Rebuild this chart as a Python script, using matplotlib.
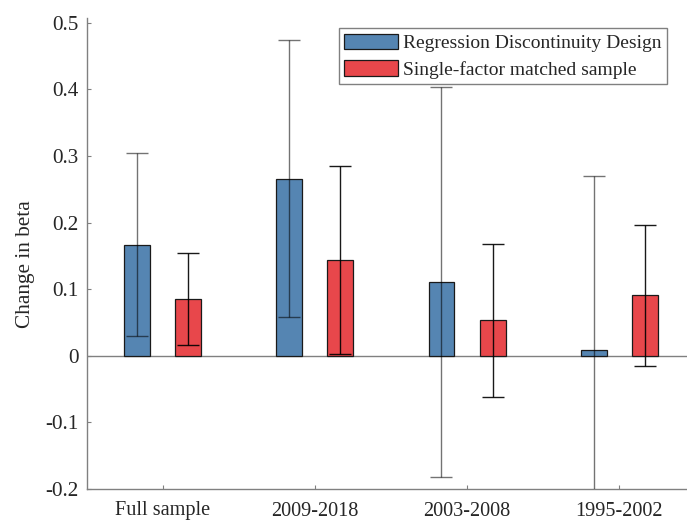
import matplotlib
matplotlib.use("Agg")
import matplotlib.pyplot as plt
import numpy as np

plt.rcParams["font.family"] = ["Liberation Serif", "DejaVu Serif"]

# Estimated change in beta by sample period
periods = ["Full sample", "2009-2018", "2003-2008", "1995-2002"]
rdd_mean = [0.167, 0.266, 0.111, 0.009]
rdd_err = [0.138, 0.208, 0.293, 0.261]
sfm_mean = [0.085, 0.144, 0.053, 0.091]
sfm_err = [0.069, 0.141, 0.115, 0.106]
series_names = ["Regression Discontinuity Design", "Single-factor matched sample"]
y_ticks = [-0.2, -0.1, 0, 0.1, 0.2, 0.3, 0.4, 0.5]
y_tick_labels = ["-0.2", "-0.1", "0", "0.1", "0.2", "0.3", "0.4", "0.5"]

blue = "#5585b2"
red = "#e8474b"
axis_gray = "#808080"
text_color = "#262626"

fig = plt.figure(figsize=(6.87, 5.24), dpi=100)
ax = fig.add_axes([87 / 687, 35 / 524, 600 / 687, 471 / 524])

x = np.arange(1, len(periods) + 1)
width = 0.17
offset = 0.168

ax.axhline(0, color=axis_gray, lw=1.0, zorder=1)

ax.bar(x - offset, rdd_mean, width, color=blue, edgecolor="#1a1a1a",
       linewidth=0.9, label=series_names[0], zorder=2)
ax.bar(x + offset, sfm_mean, width, color=red, edgecolor="#1a1a1a",
       linewidth=0.9, label=series_names[1], zorder=2)

ax.errorbar(x - offset, rdd_mean, yerr=rdd_err, fmt="none", ecolor="black",
            alpha=0.55, elinewidth=1.0, capsize=8, capthick=1.0, zorder=3)
ax.errorbar(x + offset, sfm_mean, yerr=sfm_err, fmt="none", ecolor="black",
            alpha=0.9, elinewidth=1.0, capsize=8, capthick=1.0, zorder=3)

ax.set_xlim(0.503, 4.445)
ax.set_ylim(-0.2, 0.507)
ax.set_xticks(x)
ax.set_xticklabels(periods, fontsize=14.6)
ax.set_yticks(y_ticks)
ax.set_yticklabels(y_tick_labels, fontsize=15.2)
ax.set_ylabel("Change in beta", fontsize=15.3, color=text_color)
ax.yaxis.set_label_coords(-0.087, 0.478)

for side in ("top", "right"):
    ax.spines[side].set_visible(False)
for side in ("left", "bottom"):
    ax.spines[side].set_color(axis_gray)
    ax.spines[side].set_linewidth(1.0)
ax.tick_params(direction="in", length=3, width=0.8, color=axis_gray,
               labelcolor=text_color)
ax.tick_params(axis="x", pad=9)
ax.tick_params(axis="y", pad=6)

leg = ax.legend(loc="upper right", bbox_to_anchor=(667 / 687, 1 - 28 / 524),
                bbox_transform=fig.transFigure, borderaxespad=0,
                fontsize=14, fancybox=False, framealpha=1,
                edgecolor=axis_gray, handlelength=2.75, handleheight=0.85,
                handletextpad=0.25, labelspacing=0.4, borderpad=0.3)
leg.get_frame().set_linewidth(1.0)
for t in leg.get_texts():
    t.set_color(text_color)

fig.savefig("out.png", dpi=100)
